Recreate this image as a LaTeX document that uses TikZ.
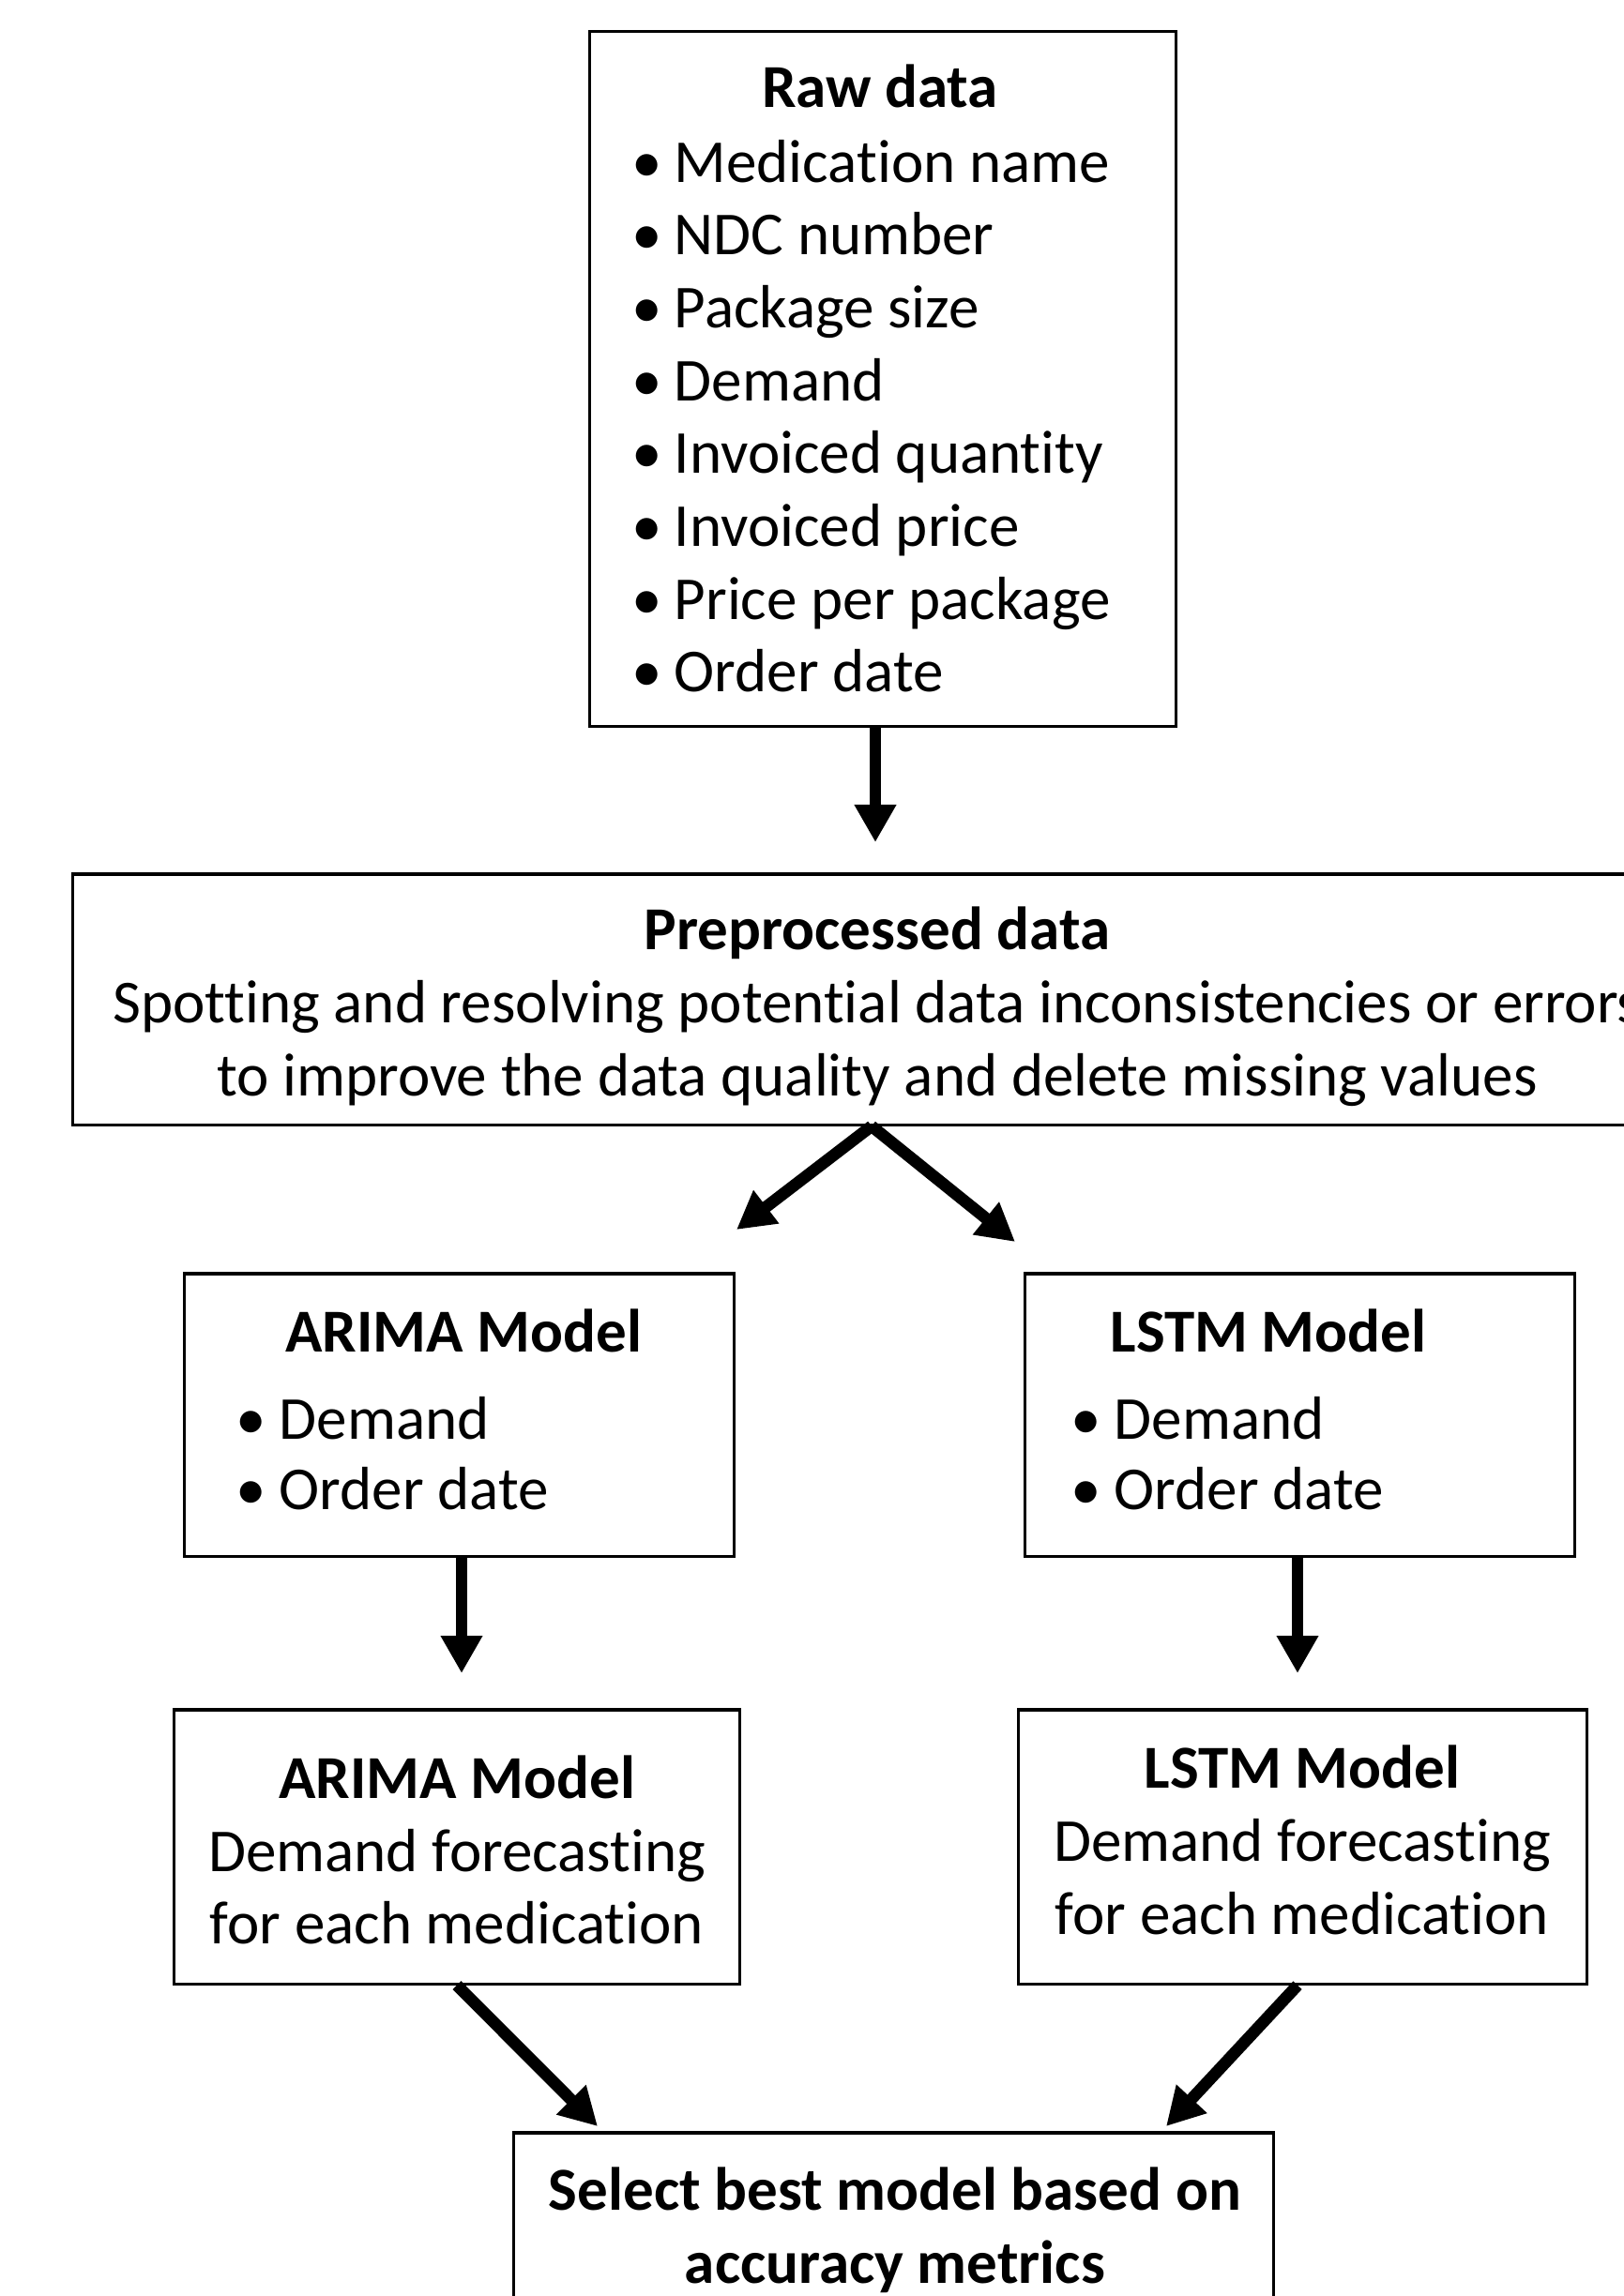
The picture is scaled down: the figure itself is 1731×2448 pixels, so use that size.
\documentclass[tikz,border=0pt]{standalone}
\usepackage{fontspec}
\setmainfont{Carlito}[Ligatures={NoCommon}]
\usetikzlibrary{arrows.meta,calc}
\begin{document}
\begin{tikzpicture}[x=0.01cm,y=-0.01cm,
  box/.style={draw=black,line width=0.9pt,rectangle,inner sep=0pt,fill=none},
  txt/.style={inner sep=0pt,anchor=base,font=\fontsize{18.5}{22}\selectfont},
  ttl/.style={txt,font=\fontsize{18.5}{22}\selectfont\bfseries},
  itm/.style={txt,anchor=base west},
  flow/.style={line width=3.6pt,-{Triangle[length=0.40cm,width=0.42cm]}}
]
\useasboundingbox (0,0) rectangle (1731,2448);
\clip (0,0) rectangle (1731,2448);
\fill[white] (0,0) rectangle (1731,2448);

% boxes
\node[box,minimum width=6.24cm,minimum height=7.40cm] (raw) at (941,404) {};
\node[box,minimum width=17.14cm,minimum height=2.67cm] (pre) at (935,1065.5) {};
\node[box,minimum width=5.85cm,minimum height=3.01cm] (ar1) at (489.5,1508.5) {};
\node[box,minimum width=5.85cm,minimum height=3.01cm] (ls1) at (1385.5,1508.5) {};
\node[box,minimum width=6.02cm,minimum height=2.92cm] (ar2) at (487,1969) {};
\node[box,minimum width=6.05cm,minimum height=2.92cm] (ls2) at (1388.5,1969) {};
\node[box,minimum width=8.09cm,minimum height=2.76cm] (sel) at (952.5,2412) {};

% raw data text
\node[ttl] (rawt) at (938,114) {Raw data};
\foreach \t [count=\i] in {Medication name,NDC number,Package size,Demand,Invoiced quantity,Invoiced price,Price per package,Order date}
  \node[itm] (r\i) at (673,{194+77.7*(\i-1)}) {\makebox[0.45cm][l]{•}\t};

% preprocessed text
\node[ttl] (pret) at (935,1012) {Preprocessed data};
\node[txt] (pre1) at (935,1090) {Spotting and resolving potential data inconsistencies or errors};
\node[txt] (pre2) at (935,1168) {to improve the data quality and delete missing values};

% ARIMA / LSTM inputs
\node[ttl] (ar1t) at (494,1441) {ARIMA Model};
\node[itm] (ar1a) at (251,1534) {\makebox[0.46cm][l]{•}Demand};
\node[itm] (ar1b) at (251,1609) {\makebox[0.46cm][l]{•}Order date};
\node[ttl] (ls1t) at (1352,1441) {LSTM Model};
\node[itm] (ls1a) at (1141,1534) {\makebox[0.46cm][l]{•}Demand};
\node[itm] (ls1b) at (1141,1609) {\makebox[0.46cm][l]{•}Order date};

% forecasts
\node[ttl] (ar2t) at (487,1917) {ARIMA Model};
\node[txt] (ar2a) at (487,1995) {Demand forecasting};
\node[txt] (ar2b) at (487,2072) {for each medication};
\node[ttl] (ls2t) at (1388,1906) {LSTM Model};
\node[txt] (ls2a) at (1388,1984) {Demand forecasting};
\node[txt] (ls2b) at (1388,2062) {for each medication};

% select
\node[ttl] (selt) at (954,2356) {Select best model based on};
\node[ttl] (sel2) at (954,2434) {accuracy metrics};

% connector end points
\coordinate (e1) at (933,898);
\coordinate (s2) at (929,1199);
\coordinate (e2) at (785,1311);
\coordinate (e3) at (1082,1324);
\coordinate (e4) at (492,1784);
\coordinate (e5) at (1383,1784);
\coordinate (s6) at (487,2115);
\coordinate (e6) at (637,2267);
\coordinate (s7) at (1383,2115);
\coordinate (e7) at (1243,2267);

\draw[flow] (raw.south -| e1) -- (e1);
\draw[flow] (pre.south -| s2) -- (e2);
\draw[flow] (pre.south -| s2) -- (e3);
\draw[flow] (ar1.south -| e4) -- (e4);
\draw[flow] (ls1.south -| e5) -- (e5);
\draw[flow] (ar2.south -| s6) -- (e6);
\draw[flow] (ls2.south -| s7) -- (e7);
\end{tikzpicture}
\end{document}
